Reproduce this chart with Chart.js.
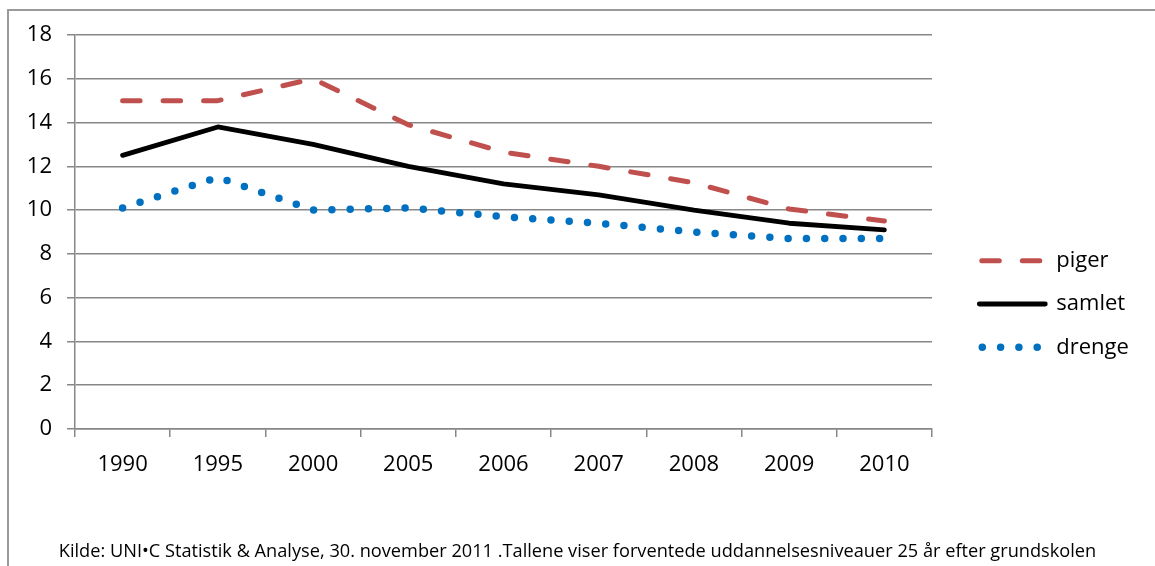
<!DOCTYPE html>
<html>
<head>
<meta charset="utf-8">
<script src="https://cdn.jsdelivr.net/npm/chart.js@4.4.1/dist/chart.umd.min.js"></script>
<style>
html,body{margin:0;padding:0;background:#fff;overflow:hidden;width:1155px;height:566px;}
#frame{position:absolute;left:7px;top:9px;width:2000px;height:2000px;border:2px solid #9a9a9a;box-sizing:border-box;}
#c{position:absolute;left:0;top:0;}
#footer{position:absolute;left:0;top:539px;width:1155px;text-align:center;font-family:"Open Sans",sans-serif;font-size:18.2px;line-height:22px;color:#000;white-space:nowrap;}
</style>
</head>
<body>
<div id="frame"></div>
<canvas id="c" width="1155" height="566"></canvas>
<div id="footer">Kilde: UNI•C Statistik &amp; Analyse, 30. november 2011 .Tallene viser forventede uddannelsesniveauer 25 år efter grundskolen</div>
<script>
const categories = ['1990','1995','2000','2005','2006','2007','2008','2009','2010'];
const piger  = [15, 15, 16, 13.9, 12.65, 12.0, 11.25, 10.05, 9.5];
const samlet = [12.5, 13.8, 13.0, 12.0, 11.2, 10.7, 10.0, 9.4, 9.1];
const drenge = [10.1, 11.5, 10.0, 10.1, 9.7, 9.4, 9.0, 8.7, 8.7];
const seriesNames = ['piger', 'samlet', 'drenge'];
const yMin = 0, yMax = 18, yStep = 2;

const gridColor = '#878787';
const fontFamily = '"Open Sans", sans-serif';

const legendStyles = {
  piger:  { lineDash: [17.5, 23], lineDashOffset: 38, lineCap: 'round', lineWidth: 5 },
  samlet: { lineDash: [], lineDashOffset: 0, lineCap: 'round', lineWidth: 4.8 },
  drenge: { lineDash: [0, 18.3], lineDashOffset: 15.3, lineCap: 'round', lineWidth: 7.5 }
};

const ctx = document.getElementById('c').getContext('2d');
new Chart(ctx, {
  type: 'line',
  data: {
    labels: categories,
    datasets: [
      { label: seriesNames[0], data: piger, borderColor: '#C0504D', backgroundColor: '#C0504D',
        borderWidth: 5, borderDash: [17.5, 23], borderCapStyle: 'round', borderJoinStyle: 'round',
        pointRadius: 0, tension: 0, fill: false },
      { label: seriesNames[1], data: samlet, borderColor: '#000000', backgroundColor: '#000000',
        borderWidth: 4.8, borderCapStyle: 'round', borderJoinStyle: 'round',
        pointRadius: 0, tension: 0, fill: false },
      { label: seriesNames[2], data: drenge, borderColor: '#0070C0', backgroundColor: '#0070C0',
        borderWidth: 7.5, borderDash: [0, 18.3], borderCapStyle: 'round', borderJoinStyle: 'round',
        pointRadius: 0, tension: 0, fill: false }
    ]
  },
  options: {
    responsive: false,
    animation: false,
    devicePixelRatio: 1,
    layout: { padding: { left: 0, top: 35, right: 27, bottom: 0 } },
    scales: {
      x: {
        type: 'category',
        offset: true,
        grid: { display: true, drawOnChartArea: false, drawTicks: true, tickLength: 8, offset: true, color: gridColor, lineWidth: 1.5 },
        border: { display: true, color: gridColor, width: 1.5 },
        ticks: { color: '#000', font: { family: fontFamily, size: 22 }, padding: 15, maxRotation: 0, autoSkip: false },
        afterFit(s) { s.height = 137; }
      },
      y: {
        type: 'linear',
        min: yMin, max: yMax,
        grid: { color: gridColor, lineWidth: 1.5, tickLength: 8 },
        border: { display: true, color: gridColor, width: 1.5 },
        ticks: { stepSize: yStep, color: '#000', font: { family: fontFamily, size: 22 }, padding: 15 },
        afterFit(s) { s.width = 75; }
      },
      spacer: {
        type: 'linear',
        position: 'right',
        display: true,
        grid: { display: false, drawTicks: false },
        border: { display: false },
        ticks: { display: false },
        afterFit(s) { s.width = 26; }
      }
    },
    plugins: {
      tooltip: { enabled: false },
      legend: {
        position: 'right',
        align: 'center',
        maxWidth: 170,
        title: { display: true, text: '', font: { size: 7, lineHeight: 1 }, padding: 0 },
        labels: {
          usePointStyle: true,
          pointStyle: 'line',
          pointStyleWidth: 66,
          padding: 21.3,
          color: '#000',
          font: { family: fontFamily, size: 22 },
          generateLabels(chart) {
            const items = Chart.defaults.plugins.legend.labels.generateLabels(chart);
            items.forEach(it => {
              const st = legendStyles[it.text];
              if (st) Object.assign(it, st);
            });
            return items;
          }
        }
      }
    }
  }
});
</script>
</body>
</html>
